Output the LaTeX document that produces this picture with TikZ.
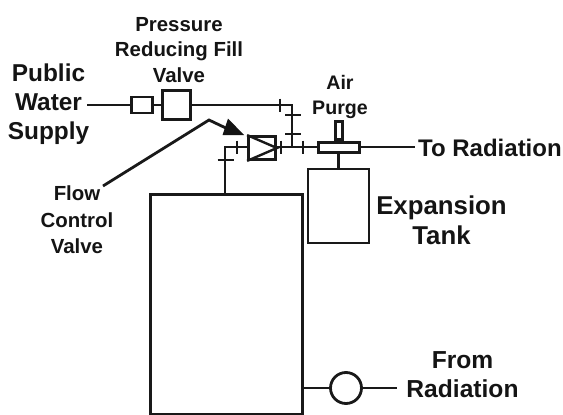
\documentclass[tikz,border=0pt]{standalone}
\usepackage{fontspec}
\setmainfont{Liberation Sans}
\begin{document}
\begin{tikzpicture}[x=1pt,y=-1pt,
  pipe/.style={line width=2.8pt,draw=black!90,line cap=butt},
  boxs/.style={draw=black!90,line width=2.8pt,fill=white,minimum width=0pt,minimum height=0pt,inner sep=0pt,anchor=center},
  lab/.style={align=center,text=black!92,inner sep=0pt},
  big/.style={lab,font=\fontsize{24.4}{29}\bfseries\selectfont},
  small/.style={lab,font=\fontsize{20.4}{25.5}\bfseries\selectfont}]
\useasboundingbox (0,0) rectangle (563,415);
\coordinate (pubend) at (87,105);
\coordinate (corner) at (292,105);
\coordinate (junc) at (292,147);
\coordinate (lcorner) at (225,147);
\coordinate (torad) at (415,147);
\coordinate (fromrad) at (397,388);
% boxes
\node[boxs,minimum width=21pt,minimum height=16pt] (sv) at (142,105) {};
\node[boxs,minimum width=28pt,minimum height=29pt] (fill) at (176.5,105) {};
\node[boxs,minimum width=27pt,minimum height=23pt] (fcv) at (262,148) {};
\node[boxs,minimum width=41pt,minimum height=10pt] (purge) at (339,147.5) {};
\node[boxs,minimum width=7.5pt,minimum height=18pt,anchor=south] (stem) at (purge.north) {};
\node[boxs,minimum width=61pt,minimum height=74pt] (tank) at (338.5,206) {};
\node[boxs,minimum width=152pt,minimum height=220pt,anchor=north west] (boiler) at (149,193) {};
\node[draw=black!90,line width=2.8pt,circle,minimum size=31pt,inner sep=0pt] (pump) at (346,388) {};
% connectors
\draw[pipe] (pubend) -- (sv.west);
\draw[pipe] (sv.east) -- (fill.west);
\draw[pipe] (fill.east) -- (corner) -- (junc);
\draw[pipe] (fcv.east |- junc) -- (purge.west |- junc);
\draw[pipe] (purge.east |- junc) -- (torad);
\draw[pipe] (purge.south -| tank.north) -- (tank.north);
\draw[pipe] (boiler.north -| lcorner) -- (lcorner) -- (fcv.west |- lcorner);
\draw[pipe] (boiler.east |- pump) -- (pump.west);
\draw[pipe] (pump.east) -- (fromrad);
% ticks
\foreach \x/\y in {280/105,237/147,281/147,303/147}
  \draw[pipe] (\x,\y-6.5) -- (\x,\y+6.5);
\foreach \x/\y in {293/115,293/134,225.5/160}
  \draw[pipe] (\x-8,\y) -- (\x+8,\y);
% valve symbol
\draw[pipe,line width=2.4pt,line join=miter] (fcv.north west) -- (fcv.east) -- (fcv.south west);
% labels
\node[big] (public) at (48.5,104) {Public\\Water\\Supply};
\node[small] (prv) at (179,50) {Pressure\\Reducing Fill\\Valve};
\node[small,font=\fontsize{20.4}{26.5}\bfseries\selectfont] (fcvl) at (77,220) {Flow\\Control\\Valve};
\node[small,font=\fontsize{19.6}{25.5}\bfseries\selectfont] (apl) at (340,97) {Air\\Purge};
\node[big,font=\fontsize{24}{29}\bfseries\selectfont,anchor=west] (tor) at (418,148) {To Radiation};
\node[big,font=\fontsize{25.8}{30}\bfseries\selectfont] (exp) at (441.5,220) {Expansion\\Tank};
\node[big,font=\fontsize{24.6}{29}\bfseries\selectfont] (from) at (462.5,374.5) {From\\Radiation};
% leader
\coordinate (lead0) at (103,186);
\coordinate (lead1) at (209,120);
\coordinate (lead2) at (230,130);
\draw[pipe,line join=miter] (lead0) -- (lead1) -- (lead2);
\fill[black!92] (244,135) -- (228,118.5) -- (222.5,135) -- cycle;
\end{tikzpicture}
\end{document}
